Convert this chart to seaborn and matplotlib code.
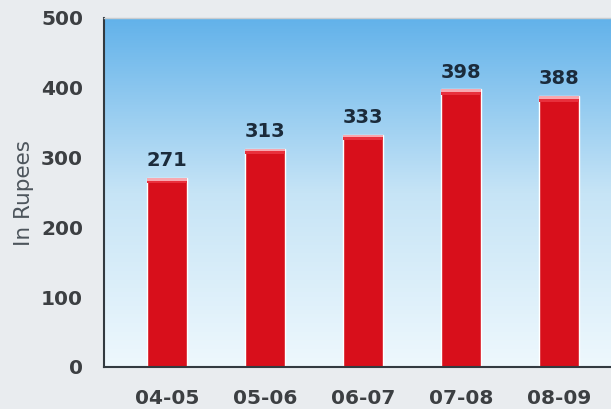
import numpy as np
import pandas as pd
import matplotlib
matplotlib.use("Agg")
import matplotlib.pyplot as plt
import seaborn as sns
from matplotlib.colors import LinearSegmentedColormap
from matplotlib.patches import Rectangle

years = ["04-05", "05-06", "06-07", "07-08", "08-09"]
values = [271, 313, 333, 398, 388]
yticks = [0, 100, 200, 300, 400, 500]

sns.set_style("white")
plt.rcParams['font.family'] = ['DejaVu Sans']

df = pd.DataFrame({"year": years, "value": values})

fig = plt.figure(figsize=(6.11, 4.09), dpi=100)
fig.patch.set_facecolor("#e9ecef")
ax = fig.add_axes([104/611, 1 - 367/409, 1 - 104/611, (367 - 18)/409])

# gradient background
cmap = LinearSegmentedColormap.from_list("bg", ["#eef8fd", "#c6e4f6", "#62b2ea"])
grad = np.linspace(0, 1, 256).reshape(-1, 1)
ax.imshow(grad, aspect="auto", cmap=cmap, extent=[0, 1, 0, 1], origin="lower",
          transform=ax.transAxes, zorder=0)

sns.barplot(data=df, x="year", y="value", color="#d80f1b", saturation=1,
            width=0.41, ax=ax, zorder=2)

for p in ax.patches:
    x0, w, h = p.get_x(), p.get_width(), p.get_height()
    ax.add_patch(Rectangle((x0, h - 8), w, 8, facecolor="#e8303c", edgecolor="none", zorder=3))
    ax.add_patch(Rectangle((x0, h - 4), w, 4, facecolor="#f8a8b0", edgecolor="none", zorder=3))
    ax.text(x0 + w / 2, h + 11, f"{int(round(h))}", ha="center", va="bottom",
            fontsize=14, fontweight="bold", color="#1b2b3b", zorder=4)

ax.set_xlim(-0.64, 4.53)
ax.set_ylim(0, 500)
ax.set_yticks(yticks)
ax.set_xlabel("")
ax.set_ylabel("In Rupees", fontsize=15.5, color="#4d555c", labelpad=5)
ax.tick_params(axis="y", labelsize=14.5, colors="#3c3f42", length=0, pad=15)
ax.tick_params(axis="x", labelsize=14.5, colors="#3c3f42", length=0, pad=16)
for lab in ax.get_xticklabels() + ax.get_yticklabels():
    lab.set_fontweight("bold")

for s in ["left", "bottom"]:
    ax.spines[s].set_color("#333a40")
    ax.spines[s].set_linewidth(1.5)
ax.spines["right"].set_visible(False)
ax.spines["top"].set_color("#c8ccd0")
ax.spines["top"].set_linewidth(1)

fig.savefig("out.png", dpi=100, facecolor=fig.get_facecolor())
